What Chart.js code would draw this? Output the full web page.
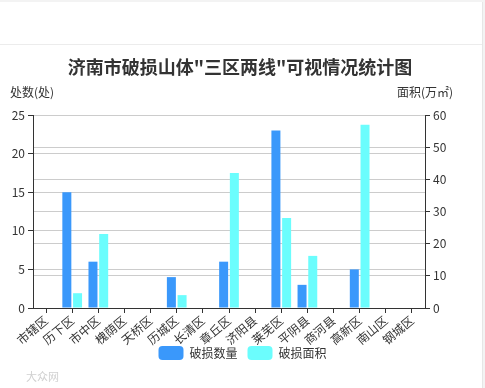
<!DOCTYPE html>
<html>
<head>
<meta charset="utf-8">
<script src="https://cdn.jsdelivr.net/npm/chart.js@4/dist/chart.umd.min.js"></script>
<style>
  html, body { margin: 0; padding: 0; }
  body { width: 485px; height: 388px; background: #f3f3f3; position: relative; overflow: hidden; }
  .frame { position: absolute; left: 0; top: 2px; width: 482px; height: 386px; background: #fff; border-right: 1px solid #e6e6e6; }
  .frame .rule { position: absolute; left: 0; right: 0; top: 42px; border-top: 1px solid #ececec; }
  .wrap { position: absolute; left: 0; top: 0; width: 485px; height: 388px; }
</style>
</head>
<body>
<div class="frame"><div class="rule"></div></div>
<div class="wrap"><canvas id="hillChart" width="485" height="388"></canvas></div>
<script>
/* ==========================================
   济南市破损山体 "三区两线" 可视情况统计图
========================================== */

const districts = ["市辖区", "历下区", "市中区", "槐荫区", "天桥区", "历城区", "长清区",
  "章丘区", "济阳县", "莱芜区", "平阴县", "商河县", "高新区", "南山区", "钢城区"];
const damagedCount = [0, 15, 6, 0, 0, 4, 0, 6, 0, 23, 3, 0, 5, 0, 0];
const damagedArea = [0, 4.6, 23, 0, 0, 4, 0, 42, 0, 28, 16.2, 0, 57, 0, 0];
const countTicks = [0, 5, 10, 15, 20, 25];
const areaTicks = [0, 10, 20, 30, 40, 50, 60];

const FONT = "'Noto Sans CJK SC', 'Noto Sans', sans-serif";
Chart.defaults.font.family = FONT;
Chart.defaults.color = "#333";

// title, axis names and watermark, drawn as text
const textPlugin = {
  id: "texts",
  afterLayout(chart) {
    // pull the legend a little closer to the axis labels
    const lg = chart.legend;
    if (lg) { lg.top -= 10; lg.bottom -= 10; }
  },
  afterDraw(chart) {
    const { ctx } = chart;
    ctx.save();
    ctx.fillStyle = "#333";
    ctx.textBaseline = "middle";
    ctx.textAlign = "center";
    ctx.font = "bold 18px " + FONT;
    ctx.fillText("济南市破损山体\"三区两线\"可视情况统计图", 240, 67);

    ctx.font = "12px " + FONT;
    ctx.textAlign = "left";
    ctx.fillText("处数(处)", 10, 92);
    ctx.textAlign = "right";
    ctx.fillText("面积(万㎡)", 453, 92);

    ctx.fillStyle = "#d0d0d0";
    ctx.textAlign = "left";
    ctx.font = "11px " + FONT;
    ctx.fillText("大众网", 26, 377);
    ctx.restore();
  }
};

new Chart(document.getElementById("hillChart"), {
  type: "bar",
  data: {
    labels: districts,
    datasets: [
      {
        label: "破损数量",
        data: damagedCount,
        yAxisID: "yCount",
        backgroundColor: "#3a98fb",
        categoryPercentage: 0.82,
        barPercentage: 0.84
      },
      {
        label: "破损面积",
        data: damagedArea,
        yAxisID: "yArea",
        backgroundColor: "#6bfdfd",
        categoryPercentage: 0.82,
        barPercentage: 0.84
      }
    ]
  },
  options: {
    responsive: false,
    animation: false,
    layout: {
      padding: { top: 115, left: 0, right: 0, bottom: 8 }
    },
    plugins: {
      title: { display: false },
      tooltip: { enabled: false },
      legend: {
        position: "bottom",
        labels: {
          boxWidth: 25,
          boxHeight: 14,
          useBorderRadius: true,
          borderRadius: 4,
          padding: 10,
          color: "#333",
          font: { size: 12 }
        }
      }
    },
    scales: {
      x: {
        offset: true,
        afterFit: s => { s.height = 38; },
        border: { color: "#333" },
        grid: {
          offset: false,
          drawOnChartArea: false,
          tickLength: 5,
          tickColor: "#333"
        },
        ticks: {
          autoSkip: false,
          minRotation: 40,
          maxRotation: 40,
          padding: 0,
          color: "#333",
          font: { size: 12 }
        }
      },
      yCount: {
        position: "left",
        min: 0,
        max: 25,
        afterFit: s => { s.width = 33; },
        afterBuildTicks: s => { s.ticks = countTicks.map(v => ({ value: v })); },
        border: { color: "#333" },
        grid: { color: "#cccccc", tickLength: 5, tickColor: "#333" },
        ticks: { padding: 3, color: "#333", font: { size: 12 } }
      },
      yArea: {
        position: "right",
        min: 0,
        max: 60,
        afterFit: s => { s.width = 60; },
        afterBuildTicks: s => { s.ticks = areaTicks.map(v => ({ value: v })); },
        border: { color: "#333" },
        grid: { color: "#cccccc", tickLength: 5, tickColor: "#333" },
        ticks: { padding: 3, color: "#333", font: { size: 12 } }
      }
    }
  },
  plugins: [textPlugin]
});
</script>
</body>
</html>
